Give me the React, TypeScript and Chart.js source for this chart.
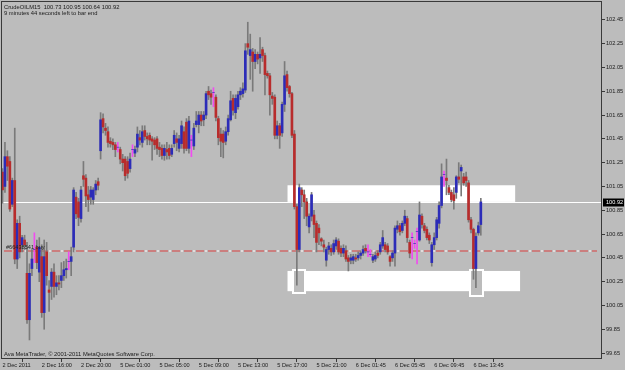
import React, { useEffect, useRef } from 'react';
import { Chart, registerables } from 'chart.js';

Chart.register(...registerables);

const symbolTitle = 'CrudeOILM15  100.73 100.95 100.64 100.92';
const timerText = '9 minutes 44 seconds left to bar end';
const copyrightText = 'Ava MetaTrader, \u00A9 2001-2011 MetaQuotes Software Corp.';
const orderLabel = '#66438541 buy';

const timeLabels = ['2 Dec 2011', '2 Dec 16:00', '2 Dec 20:00', '5 Dec 01:00', '5 Dec 05:00', '5 Dec 09:00', '5 Dec 13:00', '5 Dec 17:00', '5 Dec 21:00', '6 Dec 01:45', '6 Dec 05:45', '6 Dec 09:45', '6 Dec 13:45'];
const timeLabelBars = [0, 16, 32, 48, 64, 80, 96, 112, 128, 144, 160, 176, 192];
const priceTicks = [99.65, 99.85, 100.05, 100.25, 100.45, 100.65, 100.85, 101.05, 101.25, 101.45, 101.65, 101.85, 102.05, 102.25, 102.45];

const openPrices = [
  101.17, 101.05, 101.30, 101.26, 100.90, 101.10, 100.44, 100.74, 100.56, 100.60,
  100.32, 99.93, 100.36, 100.52, 100.54, 100.33, 100.46, 99.99, 100.50, 100.18,
  100.21, 100.33, 100.21, 100.24, 100.26, 100.30, 100.35, 100.42, 100.42, 100.54,
  100.96, 100.92, 100.78, 101.14, 101.12, 100.98, 100.96, 100.94, 101.02, 101.09,
  101.35, 101.62, 101.54, 101.51, 101.43, 101.42, 101.40, 101.38, 101.36, 101.28,
  101.28, 101.26, 101.20, 101.36, 101.33, 101.38, 101.46, 101.42, 101.52, 101.47,
  101.48, 101.45, 101.44, 101.45, 101.38, 101.37, 101.31, 101.36, 101.37, 101.32,
  101.41, 101.45, 101.37, 101.41, 101.51, 101.59, 101.37, 101.44, 101.39, 101.57,
  101.57, 101.65, 101.61, 101.65, 101.85, 101.83, 101.84, 101.80, 101.62, 101.49,
  101.49, 101.43, 101.51, 101.61, 101.79, 101.67, 101.72, 101.82, 101.83, 101.86,
  102.25, 102.15, 102.18, 102.10, 102.16, 102.13, 102.20, 102.15, 102.00, 101.98,
  101.81, 101.80, 101.48, 101.56, 101.50, 101.74, 101.99, 101.89, 101.83, 101.49,
  100.88, 100.52, 101.02, 100.98, 100.92, 100.71, 100.80, 100.81, 100.74, 100.70,
  100.61, 100.56, 100.43, 100.52, 100.53, 100.50, 100.55, 100.59, 100.53, 100.49,
  100.51, 100.45, 100.43, 100.43, 100.45, 100.45, 100.47, 100.49, 100.53, 100.50,
  100.48, 100.43, 100.44, 100.49, 100.50, 100.55, 100.56, 100.55, 100.46, 100.45,
  100.49, 100.69, 100.72, 100.68, 100.74, 100.78, 100.58, 100.62, 100.57, 100.67,
  100.60, 100.80, 100.72, 100.69, 100.64, 100.41, 100.56, 100.62, 100.74, 100.89,
  101.15, 101.12, 101.04, 101.00, 100.98, 101.00, 101.13, 101.18, 101.13, 101.13,
  101.08, 100.77, 100.69, 100.36, 100.66, 100.73,
];

const highPrices = [
  101.20, 101.42, 101.35, 101.30, 101.12, 101.54, 100.77, 100.80, 100.64, 100.64,
  100.58, 100.40, 100.52, 100.66, 100.60, 100.62, 100.56, 100.60, 100.58, 100.26,
  100.36, 100.40, 100.30, 100.30, 100.41, 100.42, 100.44, 100.50, 100.54, 101.04,
  101.00, 100.95, 101.05, 101.26, 101.15, 101.05, 101.05, 101.04, 101.10, 101.12,
  101.67, 101.66, 101.58, 101.55, 101.46, 101.45, 101.42, 101.42, 101.38, 101.32,
  101.30, 101.30, 101.33, 101.40, 101.39, 101.55, 101.52, 101.56, 101.56, 101.50,
  101.50, 101.47, 101.46, 101.47, 101.42, 101.40, 101.40, 101.42, 101.40, 101.40,
  101.52, 101.50, 101.48, 101.60, 101.55, 101.62, 101.64, 101.48, 101.58, 101.68,
  101.68, 101.68, 101.68, 101.85, 101.89, 101.86, 101.88, 101.82, 101.64, 101.54,
  101.52, 101.55, 101.65, 101.85, 101.82, 101.82, 101.85, 101.88, 101.92, 102.25,
  102.43, 102.33, 102.21, 102.20, 102.18, 102.30, 102.22, 102.17, 102.02, 102.00,
  101.84, 101.82, 101.60, 101.58, 101.76, 102.10, 102.02, 101.90, 101.84, 101.52,
  100.90, 101.07, 101.04, 101.02, 100.95, 100.82, 101.00, 100.85, 100.76, 100.73,
  100.62, 100.60, 100.54, 100.58, 100.56, 100.60, 100.62, 100.61, 100.55, 100.56,
  100.55, 100.47, 100.48, 100.48, 100.48, 100.50, 100.51, 100.55, 100.56, 100.56,
  100.52, 100.48, 100.50, 100.51, 100.58, 100.68, 100.58, 100.57, 100.47, 100.51,
  100.72, 100.76, 100.74, 100.76, 100.85, 100.80, 100.60, 100.66, 100.60, 100.70,
  100.92, 100.82, 100.74, 100.71, 100.66, 100.58, 100.66, 100.79, 100.92, 101.24,
  101.18, 101.28, 101.06, 101.02, 101.04, 101.14, 101.25, 101.23, 101.16, 101.17,
  101.10, 100.79, 100.70, 100.66, 100.75, 100.95,
];

const lowPrices = [
  100.91, 101.00, 101.10, 100.84, 100.88, 100.40, 100.36, 100.45, 100.50, 100.52,
  99.90, 99.76, 100.30, 100.41, 100.36, 100.25, 99.95, 99.85, 100.22, 100.00,
  100.10, 100.12, 100.14, 100.18, 100.20, 100.26, 100.28, 100.35, 100.30, 100.50,
  100.78, 100.72, 100.75, 101.05, 100.88, 100.84, 100.90, 100.90, 100.98, 101.02,
  101.28, 101.50, 101.48, 101.38, 101.38, 101.36, 101.30, 101.34, 101.24, 101.18,
  101.10, 101.12, 101.17, 101.30, 101.30, 101.34, 101.40, 101.38, 101.44, 101.40,
  101.40, 101.27, 101.36, 101.32, 101.30, 101.28, 101.27, 101.28, 101.28, 101.30,
  101.38, 101.35, 101.34, 101.37, 101.33, 101.35, 101.33, 101.30, 101.36, 101.55,
  101.50, 101.56, 101.56, 101.62, 101.78, 101.74, 101.72, 101.60, 101.40, 101.30,
  101.29, 101.40, 101.48, 101.60, 101.65, 101.62, 101.70, 101.78, 101.80, 101.84,
  102.16, 101.95, 101.85, 102.04, 102.08, 102.00, 102.10, 101.82, 101.96, 101.65,
  101.74, 101.45, 101.45, 101.37, 101.47, 101.68, 101.85, 101.80, 101.46, 100.86,
  100.22, 100.50, 100.88, 100.78, 100.72, 100.66, 100.76, 100.62, 100.50, 100.56,
  100.55, 100.50, 100.38, 100.48, 100.47, 100.48, 100.52, 100.48, 100.46, 100.46,
  100.42, 100.34, 100.40, 100.40, 100.42, 100.43, 100.44, 100.47, 100.49, 100.46,
  100.46, 100.41, 100.42, 100.45, 100.48, 100.53, 100.50, 100.48, 100.38, 100.42,
  100.38, 100.66, 100.64, 100.66, 100.72, 100.58, 100.45, 100.44, 100.53, 100.40,
  100.59, 100.70, 100.66, 100.60, 100.57, 100.38, 100.52, 100.60, 100.70, 100.87,
  101.05, 100.98, 100.98, 100.92, 100.86, 100.95, 101.08, 100.97, 101.06, 101.05,
  100.75, 100.66, 100.27, 100.20, 100.64, 100.64,
];

const closePrices = [
  101.02, 101.30, 101.22, 100.86, 101.10, 100.44, 100.74, 100.50, 100.62, 100.56,
  99.93, 100.32, 100.44, 100.52, 100.41, 100.54, 99.99, 100.46, 100.30, 100.16,
  100.33, 100.21, 100.24, 100.23, 100.30, 100.35, 100.36, 100.42, 100.46, 101.02,
  100.82, 100.79, 101.02, 101.11, 100.97, 100.94, 101.02, 101.02, 101.07, 101.06,
  101.61, 101.55, 101.52, 101.42, 101.41, 101.40, 101.36, 101.38, 101.28, 101.25,
  101.14, 101.16, 101.28, 101.36, 101.36, 101.49, 101.44, 101.51, 101.47, 101.45,
  101.44, 101.43, 101.40, 101.37, 101.36, 101.31, 101.37, 101.34, 101.31, 101.37,
  101.48, 101.42, 101.45, 101.56, 101.37, 101.37, 101.60, 101.44, 101.54, 101.60,
  101.65, 101.60, 101.65, 101.83, 101.82, 101.80, 101.84, 101.63, 101.46, 101.43,
  101.42, 101.51, 101.62, 101.77, 101.69, 101.79, 101.82, 101.85, 101.87, 102.19,
  102.22, 102.20, 102.10, 102.16, 102.12, 102.16, 102.15, 101.99, 101.98, 101.82,
  101.79, 101.48, 101.56, 101.48, 101.74, 101.98, 101.88, 101.83, 101.48, 100.88,
  100.52, 101.04, 100.98, 100.92, 100.80, 100.80, 100.98, 100.73, 100.58, 100.66,
  100.59, 100.54, 100.52, 100.55, 100.50, 100.57, 100.60, 100.50, 100.49, 100.53,
  100.44, 100.42, 100.45, 100.46, 100.44, 100.47, 100.49, 100.52, 100.51, 100.50,
  100.48, 100.46, 100.47, 100.47, 100.56, 100.62, 100.52, 100.50, 100.42, 100.49,
  100.70, 100.72, 100.67, 100.74, 100.80, 100.62, 100.49, 100.62, 100.57, 100.67,
  100.81, 100.73, 100.68, 100.62, 100.60, 100.56, 100.62, 100.77, 100.89, 101.13,
  101.15, 101.10, 101.00, 100.94, 100.93, 101.13, 101.11, 101.21, 101.08, 101.10,
  100.77, 100.69, 100.36, 100.63, 100.72, 100.92,
];

const bidPrice = 100.92;
const orderPrice = 100.51;
// [fromBar, toBar, lowPrice, highPrice]
const resistanceZone = [116.2, 209, 100.92, 101.06];
const supportZone = [116.2, 211, 100.17, 100.34];
const markerBoxes = [
  [118.1, 123.9, 100.15, 100.36],
  [190.1, 196.2, 100.12, 100.36],
];

const BG = '#bcbcbc';
const FONT = '"Liberation Sans", Arial, sans-serif';

const overlayPlugin = {
  id: 'mt4overlay',
  beforeDraw(chart: any) {
    const { ctx, width, height } = chart;
    ctx.save();
    ctx.fillStyle = BG;
    ctx.fillRect(0, 0, width, height);
    ctx.restore();
  },
  beforeDatasetsDraw(chart: any) {
    const { ctx, chartArea: a, scales } = chart;
    const x = scales.x;
    const y = scales.y;
    ctx.save();
    ctx.beginPath();
    ctx.rect(a.left, a.top, a.right - a.left, a.bottom - a.top);
    ctx.clip();
    ctx.fillStyle = '#ffffff';
    for (const z of [resistanceZone, supportZone]) {
      const x0 = x.getPixelForValue(z[0]);
      const x1 = x.getPixelForValue(z[1]);
      const y0 = y.getPixelForValue(z[3]);
      const y1 = y.getPixelForValue(z[2]);
      ctx.fillRect(x0, y0, x1 - x0, y1 - y0);
    }
    for (const b of markerBoxes) {
      const x0 = Math.round(x.getPixelForValue(b[0]));
      const x1 = Math.round(x.getPixelForValue(b[1]));
      const y0 = Math.round(y.getPixelForValue(b[3]));
      const y1 = Math.round(y.getPixelForValue(b[2]));
      ctx.fillStyle = BG;
      ctx.fillRect(x0, y0, x1 - x0, y1 - y0);
      ctx.strokeStyle = '#ffffff';
      ctx.lineWidth = 2;
      ctx.strokeRect(x0 + 1, y0 + 1, x1 - x0 - 2, y1 - y0 - 2);
    }
    // bid line
    const yb = Math.round(y.getPixelForValue(bidPrice)) + 0.5;
    ctx.strokeStyle = '#ffffff';
    ctx.lineWidth = 1;
    ctx.beginPath();
    ctx.moveTo(a.left, yb);
    ctx.lineTo(a.right, yb);
    ctx.stroke();
    // order line (dash-dot, red with light dots)
    const yo = Math.round(y.getPixelForValue(orderPrice));
    ctx.lineWidth = 1.5;
    ctx.strokeStyle = '#d06a6a';
    ctx.setLineDash([8, 4]);
    ctx.beginPath();
    ctx.moveTo(a.left + 2, yo);
    ctx.lineTo(a.right - 5, yo);
    ctx.stroke();
    ctx.strokeStyle = '#f0e6e6';
    ctx.setLineDash([2, 10]);
    ctx.lineDashOffset = -9;
    ctx.beginPath();
    ctx.moveTo(a.left + 2, yo);
    ctx.lineTo(a.right - 5, yo);
    ctx.stroke();
    ctx.restore();
  },
  afterDatasetsDraw(chart: any) {
    const { ctx, chartArea: a, scales } = chart;
    const y = scales.y;
    const yo = Math.round(y.getPixelForValue(orderPrice));
    ctx.save();
    ctx.fillStyle = '#1e1e1e';
    ctx.font = `5.6px ${FONT}`;
    ctx.textBaseline = 'alphabetic';
    ctx.textAlign = 'left';
    ctx.fillText(orderLabel, a.left + 4, yo - 2);
    ctx.restore();
  },
  afterDraw(chart: any) {
    const { ctx, chartArea: a, scales } = chart;
    const y = scales.y;
    ctx.save();
    ctx.strokeStyle = '#3a3a3a';
    ctx.lineWidth = 1;
    ctx.strokeRect(a.left - 0.5, a.top - 0.5, a.right - a.left, a.bottom - a.top);
    ctx.fillStyle = '#1a1a1a';
    ctx.font = `5.8px ${FONT}`;
    ctx.textAlign = 'left';
    ctx.textBaseline = 'alphabetic';
    ctx.fillText(symbolTitle, a.left + 2, a.top + 6.5);
    ctx.fillText(timerText, a.left + 2, a.top + 12.5);
    ctx.fillText(copyrightText, a.left + 2, a.bottom - 3);
    // bid price label
    const yb = Math.round(y.getPixelForValue(bidPrice)) + 0.5;
    ctx.fillStyle = '#000000';
    ctx.fillRect(a.right + 1, yb - 4, 21, 8);
    ctx.fillStyle = '#ffffff';
    ctx.font = `5.6px ${FONT}`;
    ctx.textBaseline = 'middle';
    ctx.fillText(bidPrice.toFixed(2), a.right + 4, yb);
    ctx.restore();
  },
};

export default function App() {
  const canvasRef = useRef<HTMLCanvasElement | null>(null);

  useEffect(() => {
    const canvas = canvasRef.current;
    if (!canvas) return;
    const idx = openPrices.map((_, i) => i);
    const wickData = idx.map((i) => ({ x: i, y: [lowPrices[i], highPrices[i]] }));
    const bodyData = idx.map((i) => ({ x: i, y: [openPrices[i], closePrices[i]] }));
    const wickColors = idx.map((i) => (openPrices[i] === closePrices[i] ? '#f04cf0' : '#7a7a7a'));
    const bodyColors = idx.map((i) => (closePrices[i] >= openPrices[i] ? '#2c2cb8' : '#b82c2c'));

    const tickFont = { family: FONT, size: 5.6 };

    const chart = new Chart(canvas, {
      type: 'bar',
      data: {
        datasets: [
          {
            data: wickData as any,
            backgroundColor: wickColors,
            barThickness: 1,
            grouped: false,
            order: 2,
            borderWidth: 0,
          } as any,
          {
            data: bodyData as any,
            backgroundColor: bodyColors,
            barThickness: 2,
            grouped: false,
            order: 1,
            borderWidth: 0,
          } as any,
        ],
      },
      options: {
        animation: false,
        responsive: false,
        maintainAspectRatio: false,
        events: [],
        layout: { padding: { left: 2, top: 2, right: 0, bottom: 0 } },
        plugins: {
          legend: { display: false },
          tooltip: { enabled: false },
        },
        scales: {
          x: {
            type: 'linear',
            min: -0.2,
            max: 244.4,
            offset: false,
            afterBuildTicks: (s: any) => {
              s.ticks = timeLabelBars.map((v) => ({ value: v }));
            },
            afterFit: (s: any) => {
              s.height = 11;
              s.paddingLeft = 0;
              s.paddingRight = 0;
            },
            ticks: {
              callback: (v: any) => {
                const k = timeLabelBars.indexOf(Number(v));
                return k >= 0 ? timeLabels[k] : '';
              },
              align: 'start',
              maxRotation: 0,
              minRotation: 0,
              autoSkip: false,
              padding: 0,
              color: '#1a1a1a',
              font: tickFont,
            },
            grid: { drawOnChartArea: false, drawTicks: true, tickLength: 3, color: '#3a3a3a' },
            border: { display: false },
          },
          y: {
            position: 'right',
            min: 99.6,
            max: 102.6,
            afterBuildTicks: (s: any) => {
              s.ticks = priceTicks.map((v) => ({ value: v }));
            },
            afterFit: (s: any) => {
              s.width = 23;
              s.paddingTop = 0;
              s.paddingBottom = 0;
            },
            ticks: {
              callback: (v: any) => Number(v).toFixed(2),
              padding: 1,
              color: '#1a1a1a',
              font: tickFont,
            },
            grid: { drawOnChartArea: false, drawTicks: true, tickLength: 3, color: '#3a3a3a' },
            border: { display: false },
          },
        },
      } as any,
      plugins: [overlayPlugin],
    });
    return () => chart.destroy();
  }, []);

  return (
    <div style={{ position: 'absolute', left: 0, top: 0, width: 625, height: 370, background: BG }}>
      <canvas ref={canvasRef} width={625} height={370} style={{ display: 'block', width: 625, height: 370 }} />
    </div>
  );
}
